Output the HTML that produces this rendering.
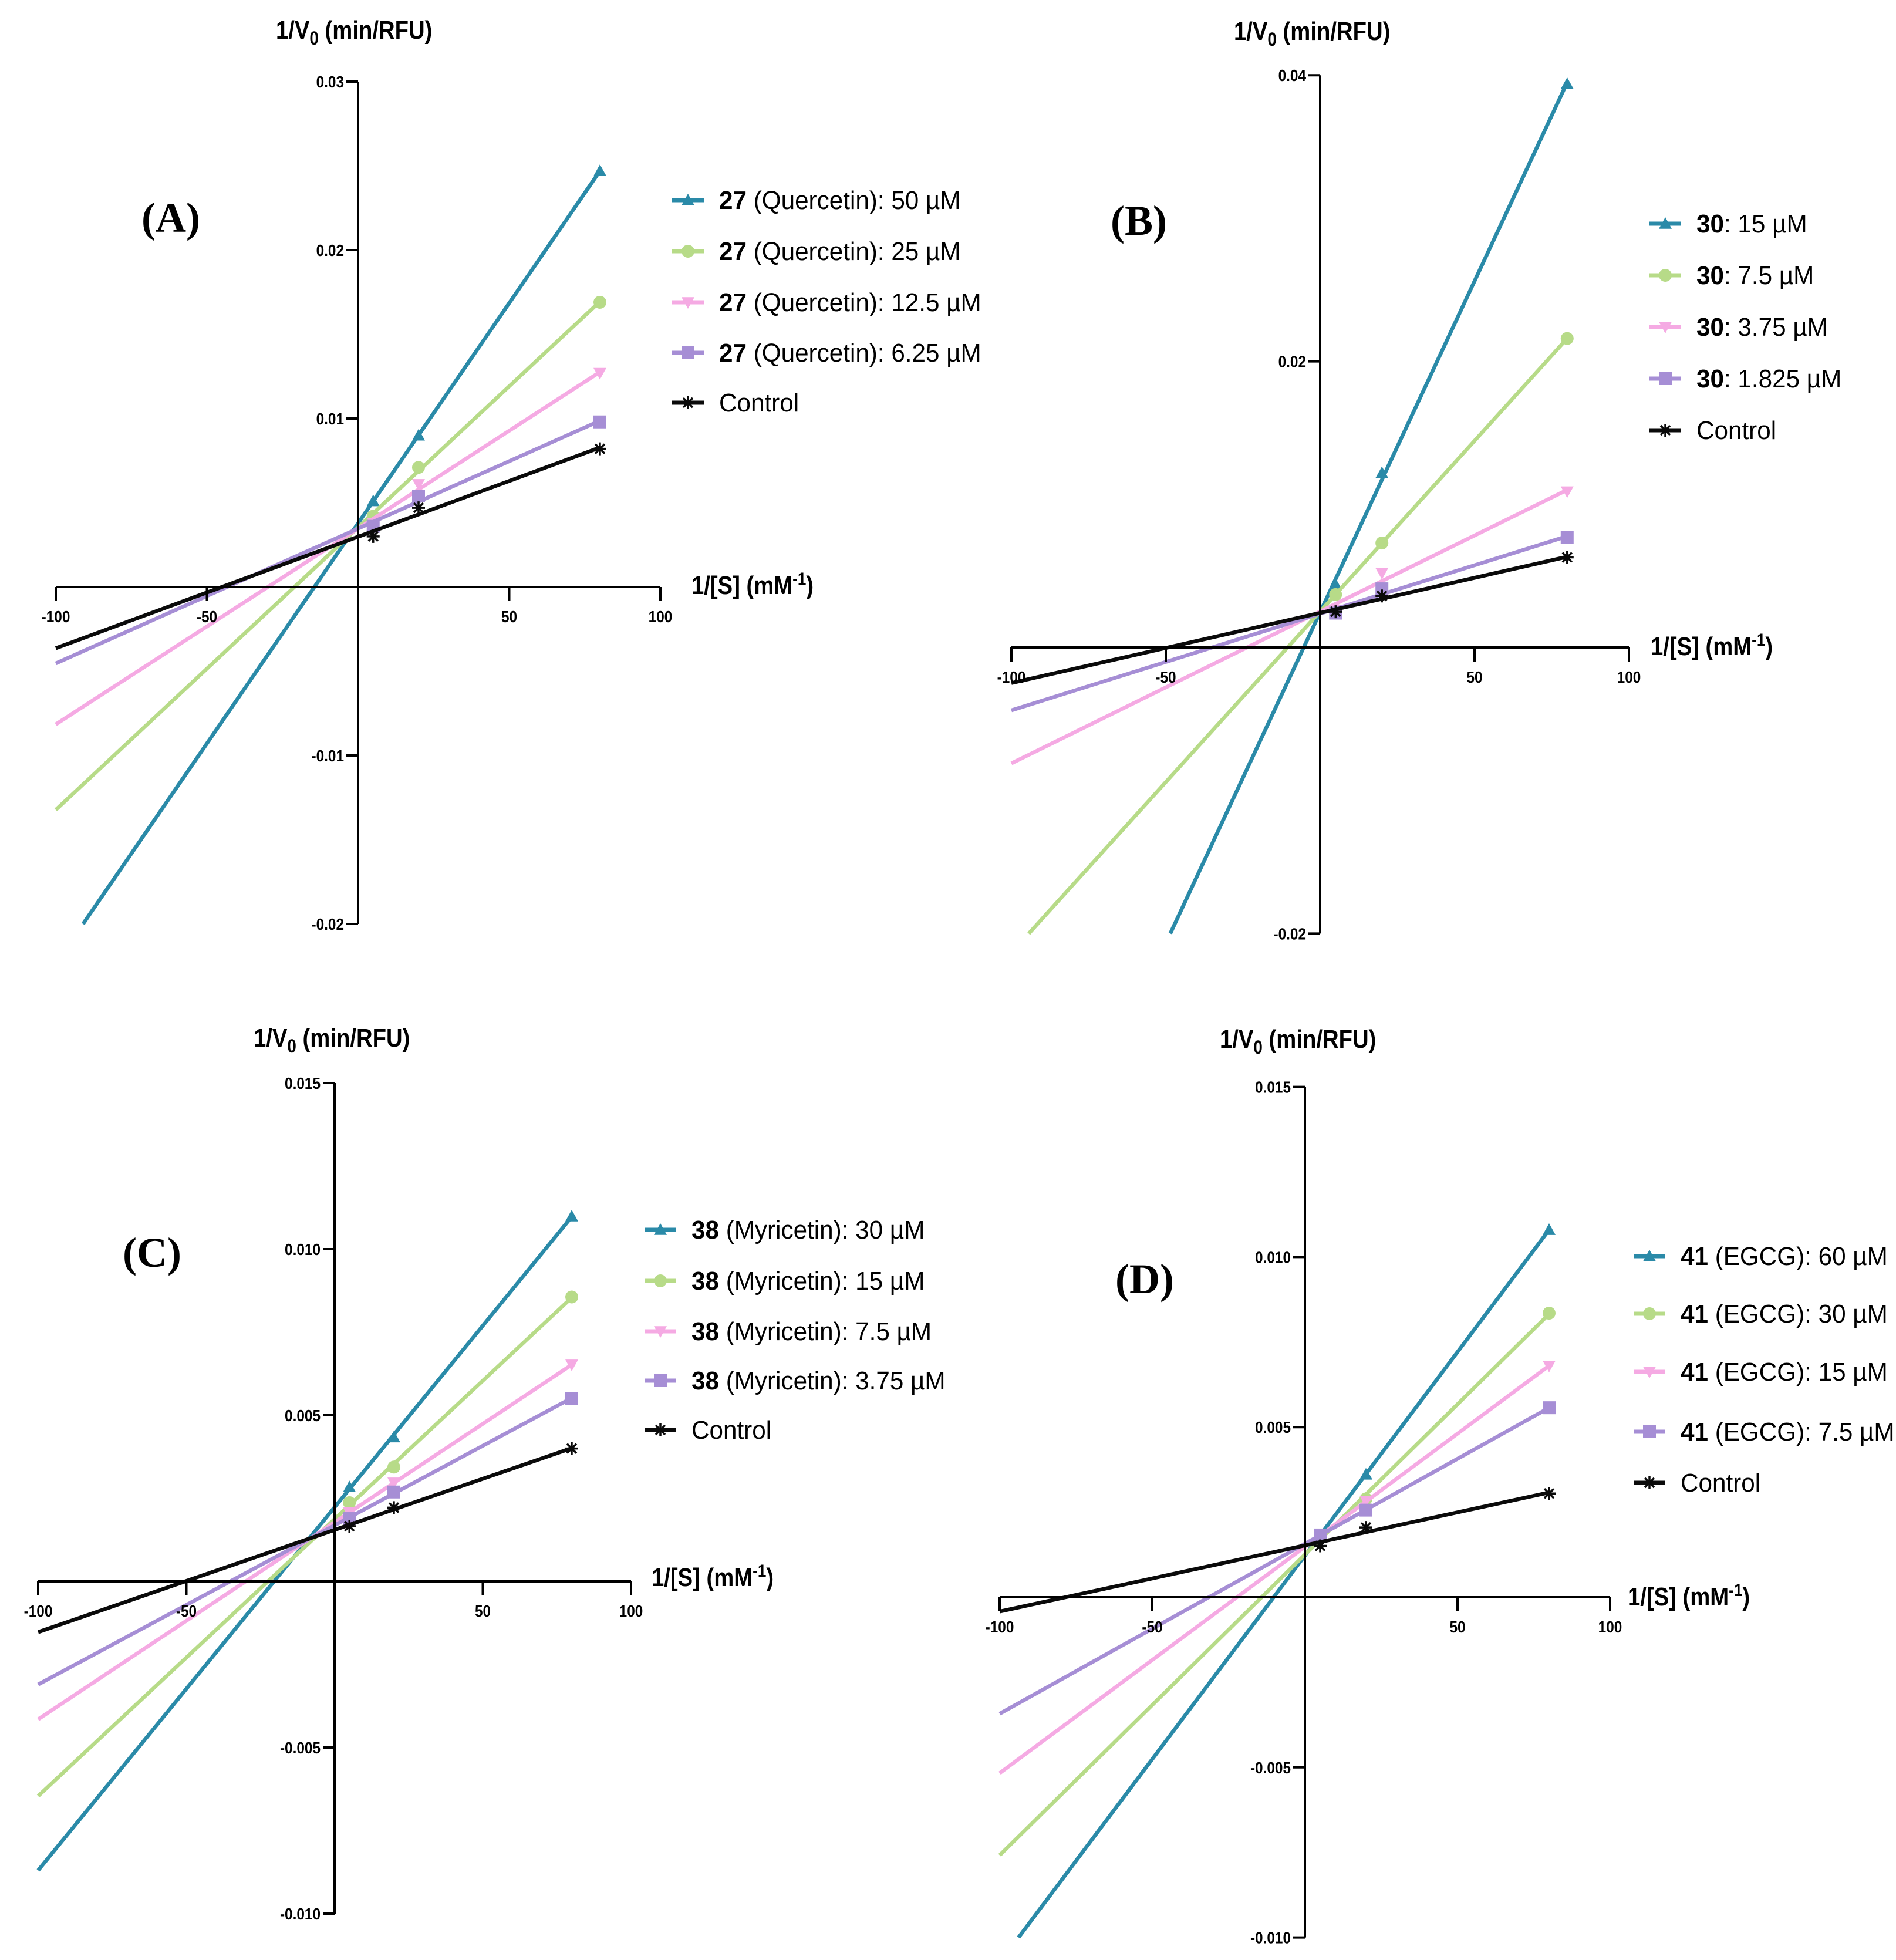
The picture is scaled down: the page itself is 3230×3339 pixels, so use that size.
<!DOCTYPE html>
<html><head><meta charset="utf-8"><style>
html,body{margin:0;padding:0;background:#fff;}
svg{display:block;}
.tick{font-family:"Liberation Sans Narrow","Liberation Sans",sans-serif;font-weight:bold;font-size:28px;}
.ttl{font-family:"Liberation Sans Narrow","Liberation Sans",sans-serif;font-weight:bold;font-size:44px;}
.leg{font-family:"Liberation Sans Narrow","Liberation Sans",sans-serif;font-size:44px;}
.pl{font-family:"Liberation Serif",serif;font-weight:bold;font-size:72px;}
</style></head><body>
<svg id="fig" width="3230" height="3339" viewBox="0 0 3230 3339" xmlns="http://www.w3.org/2000/svg"></svg>
<script>
// shared substrate values (1/[S], mM^-1)
const xVals = [5, 20, 80];
// Panel A (Quercetin)
const aLabels = ["50 µM", "25 µM", "12.5 µM", "6.25 µM"];
const aBlue = [0.0051, 0.0090, 0.0247];
const aGreen = [0.0042, 0.0071, 0.0169];
const aPink = [0.0038, 0.0061, 0.0127];
const aPurple = [0.0036, 0.0054, 0.0098];
const aControl = [0.0030, 0.0047, 0.0082];
const aYTicks = [0.03, 0.02, 0.01, -0.01, -0.02];
const aYTickLabels = ["0.03", "0.02", "0.01", "-0.01", "-0.02"];
// Panel B (compound 30)
const bLabels = ["15 µM", "7.5 µM", "3.75 µM", "1.825 µM"];
const bBlue = [0.0044, 0.0122, 0.0394];
const bGreen = [0.0037, 0.0073, 0.0216];
const bPink = [0.0026, 0.0052, 0.0109];
const bPurple = [0.0024, 0.0041, 0.0077];
const bControl = [0.0025, 0.0036, 0.0063];
const bYTicks = [0.04, 0.02, -0.02];
const bYTickLabels = ["0.04", "0.02", "-0.02"];
// Panel C (Myricetin)
const cLabels = ["30 µM", "15 µM", "7.5 µM", "3.75 µM"];
const cBlue = [0.00284, 0.00434, 0.01099];
const cGreen = [0.00237, 0.00344, 0.00856];
const cPink = [0.00207, 0.00297, 0.00652];
const cPurple = [0.00189, 0.00269, 0.00551];
const cControl = [0.00166, 0.00222, 0.00400];
const cYTicks = [0.015, 0.010, 0.005, -0.005, -0.010];
const cYTickLabels = ["0.015", "0.010", "0.005", "-0.005", "-0.010"];
// Panel D (EGCG)
const dLabels = ["60 µM", "30 µM", "15 µM", "7.5 µM"];
const dBlue = [0.00183, 0.00361, 0.0108];
const dGreen = [0.0018, 0.00289, 0.00835];
const dPink = [0.0018, 0.00283, 0.0068];
const dPurple = [0.00183, 0.00256, 0.00557];
const dControl = [0.00151, 0.00205, 0.00305];
const dYTicks = [0.015, 0.010, 0.005, -0.005, -0.010];
const dYTickLabels = ["0.015", "0.010", "0.005", "-0.005", "-0.010"];
const xTicks = [-100, -50, 50, 100];
const xTickLabels = ["-100", "-50", "50", "100"];

const NS = "http://www.w3.org/2000/svg";
const fig = document.getElementById("fig");
const COLORS = ["#2a8aa8", "#b7db88", "#f5aae3", "#a68ed5", "#0a0a0a"];
const MARKS = ["tri", "circ", "tridown", "sq", "star"];
const SNAMES = ["blue", "green", "pink", "purple", "control"];
const SX = 0.87;
const SXLEG = 0.96;

function mk(tag, attrs, parent) {
  const e = document.createElementNS(NS, tag);
  for (const k in attrs) e.setAttribute(k, attrs[k]);
  (parent || fig).appendChild(e);
  return e;
}
function txt(parent, x, y, cls, anchor, sx) {
  return mk("text", {x: 0, y: 0, class: cls, "text-anchor": anchor || "start",
    transform: `translate(${x},${y}) scale(${sx || SX},1)`}, parent);
}
function marker(g, type, cx, cy, col) {
  let e;
  const s = 11;
  if (type === "tri") e = mk("polygon", {points: `${cx},${cy-s} ${cx-s},${cy+s*0.8} ${cx+s},${cy+s*0.8}`, fill: col}, g);
  else if (type === "tridown") e = mk("polygon", {points: `${cx},${cy+s} ${cx-s},${cy-s*0.8} ${cx+s},${cy-s*0.8}`, fill: col}, g);
  else if (type === "circ") e = mk("circle", {cx: cx, cy: cy, r: s, fill: col}, g);
  else if (type === "sq") e = mk("rect", {x: cx-s, y: cy-s, width: 2*s, height: 2*s, fill: col}, g);
  else {
    e = mk("path", {d: `M${cx-s},${cy}H${cx+s}M${cx},${cy-s}V${cy+s}M${cx-8},${cy-8}L${cx+8},${cy+8}M${cx-8},${cy+8}L${cx+8},${cy-8}`, stroke: col, "stroke-width": 3.5}, g);
  }
  
  
}
function fit(xs, ys) {
  const n = xs.length;
  const mx = xs.reduce((a, b) => a + b, 0) / n, my = ys.reduce((a, b) => a + b, 0) / n;
  let sxy = 0, sxx = 0;
  for (let i = 0; i < n; i++) { sxy += (xs[i]-mx)*(ys[i]-my); sxx += (xs[i]-mx)*(xs[i]-mx); }
  const m = sxy / sxx;
  return [m, my - m * mx];
}

function panel(p) {
  const g = mk("g", {});
  
  
  const X = v => p.x0 + v * p.xs;
  const Y = v => p.y0 - v * p.ys;
  p.series.forEach((ys, i) => {
    const [m, b] = fit(xVals, ys);
    let xa = -100, xb = 80;
    const ya = m * xa + b;
    if (ya < p.ymin) xa = (p.ymin - b) / m;
    if (ya > p.ymax) xa = (p.ymax - b) / m;
    const ln = mk("line", {x1: X(xa), y1: Y(m*xa+b), x2: X(xb), y2: Y(m*xb+b), stroke: COLORS[i], "stroke-width": 6.5}, g);
    
    
    ys.forEach((v, j) => marker(g, MARKS[i], X(xVals[j]), Y(v), COLORS[i]));
  });
  const xa = mk("g", {}, g);
  
  
  mk("line", {x1: X(-100), y1: p.y0, x2: X(100), y2: p.y0, stroke: "#000", "stroke-width": 4}, xa);
  xTicks.forEach((t, i) => {
    mk("line", {x1: X(t), y1: p.y0, x2: X(t), y2: p.y0 + 24, stroke: "#000", "stroke-width": 4}, xa);
    const tx = txt(xa, X(t), p.y0 + 60, "tick", "middle");
    tx.textContent = xTickLabels[i];
    
    
  });
  const ya = mk("g", {}, g);
  
  
  mk("line", {x1: p.x0, y1: Y(p.ymax), x2: p.x0, y2: Y(p.ymin), stroke: "#000", "stroke-width": 4}, ya);
  p.yticks.forEach((t, i) => {
    mk("line", {x1: p.x0 - 20, y1: Y(t), x2: p.x0, y2: Y(t), stroke: "#000", "stroke-width": 4}, ya);
    const tx = txt(ya, p.x0 - 24, Y(t) + 10, "tick", "end");
    tx.textContent = p.ylabels[i];
    
    
  });
  const yt = txt(g, p.ytx, p.yty, "ttl");
  yt.innerHTML = '1/V<tspan font-size="32" dy="10">0</tspan><tspan dy="-10"> (min/RFU)</tspan>';
  
  
  const xt = txt(g, p.xtx, p.xty, "ttl");
  xt.innerHTML = '1/[S] (mM<tspan font-size="30" dy="-16">-1</tspan><tspan dy="16">)</tspan>';
  
  
  const pl = mk("text", {x: p.plx, y: p.ply, "text-anchor": "middle", class: "pl"}, g);
  pl.textContent = "(" + p.id.toUpperCase() + ")";
  
  
  const lg = mk("g", {}, g);
  
  
  for (let i = 0; i < 5; i++) {
    const ly = p.legY[i];
    const en = mk("g", {}, lg);
    
    
    mk("line", {x1: p.legX, y1: ly, x2: p.legX + 54, y2: ly, stroke: COLORS[i], "stroke-width": 7}, en);
    marker(en, MARKS[i], p.legX + 27, ly, COLORS[i]);
    const t = txt(en, p.legX + 80, ly + 15, "leg", "start", SXLEG);
    if (i < 4) t.innerHTML = '<tspan font-weight="bold">' + p.comp + '</tspan>' + p.name + ': ' + p.labels[i];
    else t.textContent = "Control";
  }
}

panel({id: "a", x0: 610, y0: 1000, xs: 5.15, ys: 28700, ymin: -0.02, ymax: 0.03,
  yticks: aYTicks, ylabels: aYTickLabels, series: [aBlue, aGreen, aPink, aPurple, aControl],
  ytx: 470, yty: 66, xtx: 1178, xty: 1012, plx: 291, ply: 395,
  legX: 1145, legY: [341, 428, 515, 601, 686], comp: "27", name: " (Quercetin)", labels: aLabels});
panel({id: "b", x0: 2249, y0: 1103, xs: 5.26, ys: 24370, ymin: -0.02, ymax: 0.04,
  yticks: bYTicks, ylabels: bYTickLabels, series: [bBlue, bGreen, bPink, bPurple, bControl],
  ytx: 2102, yty: 68, xtx: 2812, xty: 1116, plx: 1940, ply: 400,
  legX: 2810, legY: [381, 469, 557, 645, 733], comp: "30", name: "", labels: bLabels});
panel({id: "c", x0: 570, y0: 2694, xs: 5.05, ys: 56600, ymin: -0.010, ymax: 0.015,
  yticks: cYTicks, ylabels: cYTickLabels, series: [cBlue, cGreen, cPink, cPurple, cControl],
  ytx: 432, yty: 1783, xtx: 1110, xty: 2702, plx: 259, ply: 2158,
  legX: 1098, legY: [2095, 2182, 2268, 2352, 2436], comp: "38", name: " (Myricetin)", labels: cLabels});
panel({id: "d", x0: 2223, y0: 2721, xs: 5.2, ys: 57960, ymin: -0.010, ymax: 0.015,
  yticks: dYTicks, ylabels: dYTickLabels, series: [dBlue, dGreen, dPink, dPurple, dControl],
  ytx: 2078, yty: 1785, xtx: 2773, xty: 2735, plx: 1950, ply: 2203,
  legX: 2783, legY: [2140, 2238, 2337, 2439, 2526], comp: "41", name: " (EGCG)", labels: dLabels});
</script>
</body></html>
